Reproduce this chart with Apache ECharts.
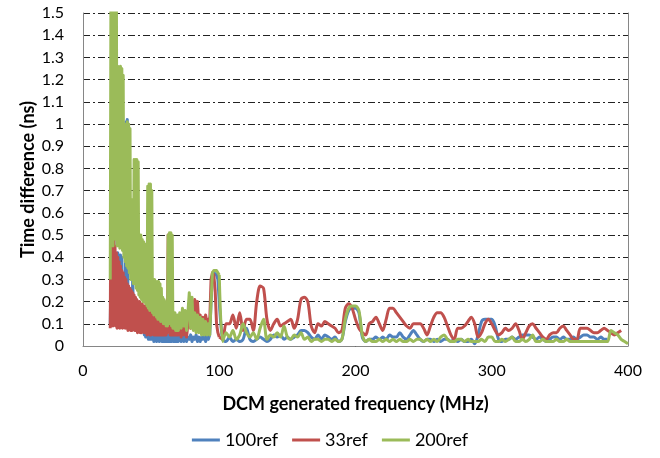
<!DOCTYPE html>
<html>
<head>
<meta charset="utf-8">
<script src="https://cdn.jsdelivr.net/npm/echarts@6/dist/echarts.min.js"></script>
<style>
  html, body { margin: 0; background: #fff; }
  #chart { width: 660px; height: 458px; }
</style>
</head>
<body>
<div id="chart"></div>
<script>
// frequency grid (MHz): 0.5 MHz steps up to 70, 1 MHz to 100, 2.5 MHz above
const freqLow = [
  20, 20.5, 21, 21.5, 22, 22.5, 23, 23.5, 24, 24.5,
  25, 25.5, 26, 26.5, 27, 27.5, 28, 28.5, 29, 29.5,
  30, 30.5, 31, 31.5, 32, 32.5, 33, 33.5, 34, 34.5,
  35, 35.5, 36, 36.5, 37, 37.5, 38, 38.5, 39, 39.5,
  40, 40.5, 41, 41.5, 42, 42.5, 43, 43.5, 44, 44.5,
  45, 45.5, 46, 46.5, 47, 47.5, 48, 48.5, 49, 49.5,
  50, 50.5, 51, 51.5, 52, 52.5, 53, 53.5, 54, 54.5,
  55, 55.5, 56, 56.5, 57, 57.5, 58, 58.5, 59, 59.5,
  60, 60.5, 61, 61.5, 62, 62.5, 63, 63.5, 64, 64.5,
  65, 65.5, 66, 66.5, 67, 67.5, 68, 68.5, 69, 69.5,
  70, 71, 72, 73, 74, 75, 76, 77, 78, 79,
  80, 81, 82, 83, 84, 85, 86, 87, 88, 89,
  90, 91, 92, 93, 94, 95, 96, 97, 98, 99,
  100
];
const freqHigh = [
  102.5, 105, 107.5, 110, 112.5, 115, 117.5, 120, 122.5, 125,
  127.5, 130, 132.5, 135, 137.5, 140, 142.5, 145, 147.5, 150,
  152.5, 155, 157.5, 160, 162.5, 165, 167.5, 170, 172.5, 175,
  177.5, 180, 182.5, 185, 187.5, 190, 192.5, 195, 197.5, 200,
  202.5, 205, 207.5, 210, 212.5, 215, 217.5, 220, 222.5, 225,
  227.5, 230, 232.5, 235, 237.5, 240, 242.5, 245, 247.5, 250,
  252.5, 255, 257.5, 260, 262.5, 265, 267.5, 270, 272.5, 275,
  277.5, 280, 282.5, 285, 287.5, 290, 292.5, 295, 297.5, 300,
  302.5, 305, 307.5, 310, 312.5, 315, 317.5, 320, 322.5, 325,
  327.5, 330, 332.5, 335, 337.5, 340, 342.5, 345, 347.5, 350,
  352.5, 355, 357.5, 360, 362.5, 365, 367.5, 370, 372.5, 375,
  377.5, 380, 382.5, 385, 387.5, 390, 392.5, 395, 397.5, 400
];

// time difference (ns)
const ref100Low = [
  0.1, 0.3, 0.1, 0.5, 0.1, 0.82, 0.1, 0.3, 0.1, 0.41,
  0.1, 0.42, 0.1, 0.41, 0.1, 0.41, 0.1, 0.4, 0.1, 0.25,
  0.09, 0.24, 0.09, 1.01, 0.09, 1.02, 0.09, 0.25, 0.09, 0.23,
  0.09, 0.22, 0.09, 0.33, 0.08, 0.18, 0.08, 0.16, 0.08, 0.15,
  0.08, 0.13, 0.08, 0.12, 0.07, 0.11, 0.07, 0.1, 0.07, 0.09,
  0.05, 0.08, 0.04, 0.08, 0.04, 0.07, 0.03, 0.07, 0.03, 0.06,
  0.03, 0.06, 0.03, 0.06, 0.02, 0.06, 0.03, 0.05, 0.02, 0.05,
  0.03, 0.05, 0.02, 0.05, 0.03, 0.05, 0.02, 0.05, 0.02, 0.05,
  0.02, 0.05, 0.02, 0.05, 0.02, 0.05, 0.02, 0.05, 0.02, 0.05,
  0.02, 0.27, 0.02, 0.05, 0.02, 0.05, 0.02, 0.05, 0.02, 0.05,
  0.02, 0.05, 0.02, 0.04, 0.02, 0.05, 0.02, 0.04, 0.03, 0.05,
  0.02, 0.04, 0.03, 0.05, 0.02, 0.04, 0.02, 0.04, 0.03, 0.05,
  0.02, 0.04, 0.03, 0.05, 0.2, 0.32, 0.33, 0.33, 0.32, 0.3,
  0.2
];
const ref100High = [
  0.03, 0.02, 0.04, 0.02, 0.03, 0.02, 0.03, 0.08, 0.03, 0.02,
  0.03, 0.04, 0.03, 0.02, 0.03, 0.05, 0.04, 0.05, 0.03, 0.04,
  0.03, 0.04, 0.05, 0.07, 0.07, 0.06, 0.04, 0.03, 0.05, 0.03,
  0.05, 0.04, 0.03, 0.04, 0.02, 0.03, 0.11, 0.16, 0.17, 0.17,
  0.15, 0.04, 0.02, 0.03, 0.03, 0.04, 0.03, 0.04, 0.03, 0.05,
  0.04, 0.04, 0.06, 0.04, 0.03, 0.05, 0.07, 0.05, 0.03, 0.02,
  0.03, 0.03, 0.02, 0.03, 0.02, 0.03, 0.03, 0.02, 0.03, 0.02,
  0.03, 0.02, 0.02, 0.03, 0.01, 0.05, 0.11, 0.12, 0.12, 0.12,
  0.09, 0.03, 0.02, 0.03, 0.03, 0.04, 0.03, 0.04, 0.05, 0.05,
  0.05, 0.04, 0.03, 0.04, 0.03, 0.02, 0.03, 0.04, 0.04, 0.03,
  0.04, 0.03, 0.03, 0.04, 0.03, 0.04, 0.05, 0.05, 0.04, 0.04,
  0.03, 0.04, 0.03, 0.03, null, null, null, null, null, null
];

const ref33Low = [
  0.08, 0.7, 0.1, 0.71, 0.09, 0.7, 0.1, 0.45, 0.09, 0.42,
  0.08, 0.4, 0.09, 0.38, 0.08, 0.36, 0.09, 0.34, 0.08, 0.33,
  0.09, 0.31, 0.08, 0.3, 0.08, 0.28, 0.07, 0.27, 0.08, 0.26,
  0.07, 0.25, 0.07, 0.24, 0.08, 0.23, 0.07, 0.22, 0.07, 0.21,
  0.06, 0.2, 0.07, 0.2, 0.06, 0.19, 0.06, 0.19, 0.07, 0.18,
  0.06, 0.18, 0.06, 0.17, 0.05, 0.17, 0.06, 0.17, 0.05, 0.16,
  0.05, 0.16, 0.06, 0.15, 0.05, 0.15, 0.05, 0.15, 0.05, 0.14,
  0.05, 0.14, 0.05, 0.14, 0.05, 0.13, 0.05, 0.13, 0.05, 0.13,
  0.05, 0.12, 0.05, 0.12, 0.06, 0.5, 0.48, 0.12, 0.05, 0.12,
  0.05, 0.12, 0.05, 0.11, 0.05, 0.11, 0.05, 0.11, 0.05, 0.1,
  0.05, 0.11, 0.04, 0.1, 0.05, 0.11, 0.04, 0.1, 0.12, 0.08,
  0.2, 0.12, 0.21, 0.1, 0.2, 0.1, 0.14, 0.08, 0.13, 0.09,
  0.14, 0.1, 0.12, 0.11, 0.3, 0.33, 0.32, 0.25, 0.1, 0.06,
  0.04
];
const ref33High = [
  0.03, 0.1, 0.1, 0.14, 0.08, 0.15, 0.07, 0.12, 0.12, 0.07,
  0.2, 0.27, 0.26, 0.12, 0.07, 0.1, 0.12, 0.09, 0.1, 0.11,
  0.12, 0.08, 0.12, 0.21, 0.22, 0.2, 0.09, 0.06, 0.1, 0.09,
  0.11, 0.1, 0.09, 0.08, 0.06, 0.07, 0.17, 0.19, 0.17, 0.12,
  0.08, 0.06, 0.05, 0.1, 0.11, 0.13, 0.1, 0.07, 0.12, 0.17,
  0.17, 0.15, 0.13, 0.11, 0.09, 0.08, 0.1, 0.1, 0.1, 0.08,
  0.05, 0.09, 0.13, 0.15, 0.15, 0.13, 0.09, 0.05, 0.03, 0.08,
  0.08, 0.09, 0.11, 0.13, 0.1, 0.04, 0.06, 0.1, 0.12, 0.1,
  0.07, 0.05, 0.06, 0.08, 0.07, 0.08, 0.1, 0.07, 0.03, 0.06,
  0.09, 0.1, 0.08, 0.06, 0.04, 0.03, 0.05, 0.06, 0.06, 0.08,
  0.09, 0.07, 0.05, 0.03, 0.03, 0.08, 0.08, 0.08, 0.07, 0.06,
  0.06, 0.07, 0.08, 0.07, 0.06, 0.05, 0.06, 0.07, null, null
];

const ref200Low = [
  0.3, 1.6, 0.5, 1.6, 0.45, 1.6, 0.5, 1.6, 0.48, 1.6,
  0.45, 1.26, 0.46, 1.25, 0.44, 1.26, 0.45, 1.25, 0.43, 1.22,
  0.4, 1.0, 0.38, 1.0, 0.36, 1.01, 0.35, 1.0, 0.33, 0.98,
  0.3, 0.62, 0.3, 0.66, 0.28, 0.84, 0.28, 0.84, 0.26, 0.84,
  0.25, 0.83, 0.23, 0.5, 0.22, 0.5, 0.21, 0.48, 0.2, 0.47,
  0.2, 0.46, 0.19, 0.45, 0.18, 0.72, 0.17, 0.73, 0.16, 0.73,
  0.16, 0.7, 0.15, 0.3, 0.14, 0.3, 0.14, 0.28, 0.13, 0.29,
  0.12, 0.29, 0.12, 0.28, 0.11, 0.26, 0.11, 0.22, 0.1, 0.21,
  0.1, 0.2, 0.09, 0.2, 0.09, 0.5, 0.1, 0.51, 0.1, 0.51,
  0.09, 0.5, 0.08, 0.15, 0.08, 0.15, 0.07, 0.14, 0.07, 0.14,
  0.07, 0.15, 0.08, 0.17, 0.09, 0.16, 0.07, 0.15, 0.24, 0.08,
  0.22, 0.07, 0.15, 0.06, 0.14, 0.06, 0.13, 0.05, 0.12, 0.05,
  0.11, 0.05, 0.1, 0.05, 0.2, 0.33, 0.34, 0.34, 0.34, 0.34,
  0.32
];
const ref200High = [
  0.02, 0.06, 0.04, 0.07, 0.03, 0.05, 0.1, 0.06, 0.04, 0.06,
  0.03, 0.08, 0.12, 0.03, 0.05, 0.04, 0.06, 0.04, 0.09, 0.04,
  0.03, 0.05, 0.04, 0.06, 0.03, 0.04, 0.02, 0.03, 0.03, 0.02,
  0.03, 0.03, 0.02, 0.03, 0.02, 0.03, 0.12, 0.17, 0.18, 0.18,
  0.16, 0.05, 0.02, 0.03, 0.02, 0.02, 0.03, 0.02, 0.03, 0.02,
  0.03, 0.02, 0.03, 0.02, 0.02, 0.03, 0.02, 0.03, 0.03, 0.02,
  0.03, 0.02, 0.03, 0.02, 0.04, 0.05, 0.03, 0.02, 0.02, 0.03,
  0.03, 0.02, 0.03, 0.02, 0.02, 0.02, 0.03, 0.02, 0.04, 0.04,
  0.02, 0.02, 0.03, 0.02, 0.03, 0.04, 0.02, 0.02, 0.03, 0.02,
  0.03, 0.05, 0.02, 0.02, 0.03, 0.02, 0.02, 0.02, 0.03, 0.02,
  0.02, 0.03, 0.02, 0.02, 0.02, 0.02, 0.02, 0.02, 0.02, 0.02,
  0.02, 0.02, 0.02, 0.02, 0.07, 0.06, 0.05, 0.03, 0.02, 0.01
];

const seriesNames = ['100ref', '33ref', '200ref'];
const seriesColors = ['#4F81BD', '#C0504D', '#9BBB59'];
const lowValues = [ref100Low, ref33Low, ref200Low];
const highValues = [ref100High, ref33High, ref200High];
const xTicks = { min: 0, max: 400, interval: 100 };
const yTicks = { min: 0, max: 1.5, interval: 0.1 };

const font = 'Lato, "Open Sans", sans-serif';
const chart = echarts.init(document.getElementById('chart'));

function lineSeries(name, color, xs, ys, smooth) {
  return {
    name: name,
    type: 'line',
    yAxisIndex: 0,
    showSymbol: false,
    symbol: 'none',
    smooth: smooth,
    clip: true,
    color: color,
    lineStyle: { width: 3, color: color, join: 'round' },
    data: xs.map((f, j) => [f, ys[j]])
  };
}

// noisy band drawn as a raw polyline, the calmer band above 100 MHz smoothed
const series = [];
seriesNames.forEach((name, i) => {
  series.push(lineSeries(name, seriesColors[i], freqLow, lowValues[i], false));
});
seriesNames.forEach((name, i) => {
  const lastX = freqLow[freqLow.length - 1];
  const lastY = lowValues[i][lowValues[i].length - 1];
  series.push(lineSeries(name, seriesColors[i], [lastX].concat(freqHigh), [lastY].concat(highValues[i]), 0.3));
});

chart.setOption({
  animation: false,
  backgroundColor: '#fff',
  textStyle: { fontFamily: font },
  grid: { left: 83, right: 32, top: 13, bottom: 112 },
  legend: {
    bottom: 4,
    left: 'center',
    icon: 'rect',
    itemWidth: 28,
    itemHeight: 3,
    itemGap: 14,
    textStyle: { fontFamily: font, fontSize: 18, color: '#000' },
    data: seriesNames
  },
  xAxis: {
    type: 'value',
    min: xTicks.min,
    max: xTicks.max,
    interval: xTicks.interval,
    name: 'DCM generated frequency (MHz)',
    nameLocation: 'middle',
    nameGap: 49,
    nameTextStyle: { fontFamily: font, fontSize: 18, fontWeight: 'bold', color: '#000' },
    axisLine: { lineStyle: { color: '#868686', width: 1 } },
    axisTick: { show: false },
    axisLabel: { margin: 17, fontSize: 16, color: '#000', fontFamily: font },
    splitLine: { show: false }
  },
  yAxis: [
    {
      type: 'value',
      min: yTicks.min,
      max: yTicks.max,
      interval: yTicks.interval,
      name: 'Time difference (ns)',
      nameLocation: 'middle',
      nameGap: 46,
      nameMoveOverlap: false,
      nameRotate: 90,
      nameTextStyle: { fontFamily: font, fontSize: 18, fontWeight: 'bold', color: '#000' },
      axisLine: { show: true, lineStyle: { color: '#868686', width: 1 } },
      axisTick: { show: false },
      axisLabel: { margin: 19, fontSize: 16, color: '#000', fontFamily: font },
      splitLine: {
        show: true,
        lineStyle: { color: '#222', width: 1, type: [7, 3, 2, 3] }
      }
    },
    {
      type: 'value',
      position: 'right',
      min: yTicks.min,
      max: yTicks.max,
      interval: yTicks.interval,
      axisLine: { show: true, lineStyle: { color: '#868686', width: 1 } },
      axisTick: { show: false },
      axisLabel: { show: false },
      splitLine: { show: false }
    }
  ],
  series: series
});
</script>
</body>
</html>
